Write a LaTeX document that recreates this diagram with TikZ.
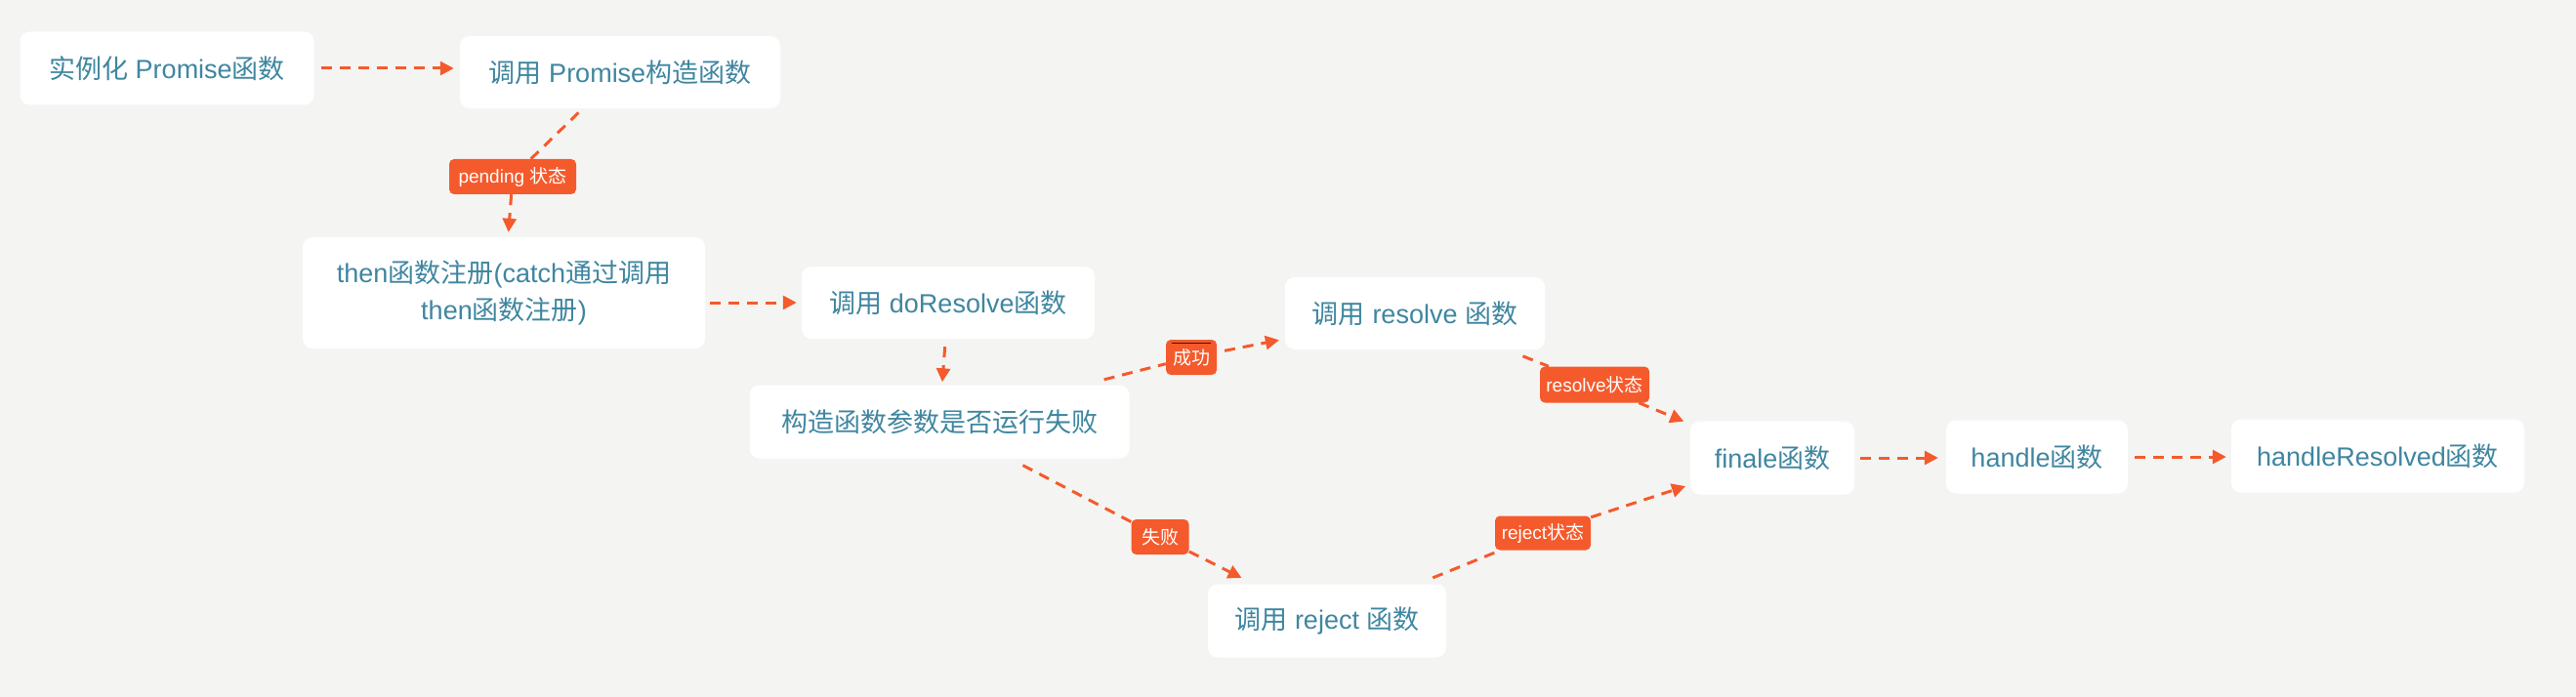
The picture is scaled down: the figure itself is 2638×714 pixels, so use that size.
\documentclass[tikz,border=0pt]{standalone}
\usepackage{fontspec}
\setmainfont{Liberation Sans}
\newfontfamily\cjkf{Noto Sans CJK SC}
\newcommand{\zhs}[1]{{\cjkf #1}}
\usetikzlibrary{arrows.meta}
\definecolor{bgc}{HTML}{F4F5F3}
\definecolor{org}{HTML}{F55A2C}
\definecolor{txt}{HTML}{3F86A0}
\begin{document}
\begin{tikzpicture}[x=1pt,y=-1pt,
  box/.style={fill=white, rounded corners=10pt, text=txt, font=\fontsize{27}{38}\selectfont, inner sep=0pt, align=center},
  tag/.style={fill=org, rounded corners=5pt, text=white, font=\fontsize{19}{22}\selectfont, inner sep=0pt},
  arr/.style={draw=org, line width=3pt, dash pattern=on 11pt off 8pt, -{Triangle[length=14pt,width=14pt]}},
  lnk/.style={draw=org, line width=3pt, dash pattern=on 11pt off 8pt},
]
\useasboundingbox[fill=bgc] (0,0) rectangle (2638,714);

\node[box, minimum width=301pt, minimum height=75pt] (b1) at (171,70) {\zhs{实例化} Promise\zhs{函数}};
\node[box, minimum width=328pt, minimum height=74pt] (b2) at (635,74) {\zhs{调用} Promise\zhs{构造函数}};
\node[box, minimum width=412pt, minimum height=114pt] (b3) at (516,300) {then\zhs{函数注册}(catch\zhs{通过调用}\\then\zhs{函数注册})};
\node[box, minimum width=300pt, minimum height=74pt] (b4) at (971,310) {\zhs{调用} doResolve\zhs{函数}};
\node[box, minimum width=389pt, minimum height=75pt] (b5) at (962,432) {\zhs{构造函数参数是否运行失败}};
\node[box, minimum width=266pt, minimum height=74pt] (b6) at (1449,321) {\zhs{调用} resolve \zhs{函数}};
\node[box, minimum width=168pt, minimum height=75pt] (b7) at (1815,469) {finale\zhs{函数}};
\node[box, minimum width=244pt, minimum height=75pt] (b8) at (1359,636) {\zhs{调用} reject \zhs{函数}};
\node[box, minimum width=186pt, minimum height=75pt] (b9) at (2086,468) {handle\zhs{函数}};
\node[box, minimum width=300pt, minimum height=75pt] (b10) at (2435,467) {handleResolved\zhs{函数}};

\node[tag, minimum width=130pt, minimum height=36pt] (t1) at (525,181) {pending \zhs{状态}};
\node[tag, minimum width=52pt, minimum height=36pt] (t2) at (1220,366) {\zhs{成功}};
\node[tag, minimum width=112pt, minimum height=37pt] (t3) at (1633,394) {resolve\zhs{状态}};
\node[tag, minimum width=59pt, minimum height=36pt] (t4) at (1188,550) {\zhs{失败}};
\node[tag, minimum width=98pt, minimum height=35pt] (t5) at (1580,546) {reject\zhs{状态}};
\draw[draw=black!75!org, line width=1pt] ([xshift=6pt,yshift=-4pt]t2.north west) -- ([xshift=-6pt,yshift=-4pt]t2.north east);

\draw[arr, shorten <=7pt, shorten >=6pt] (b1.east) -- (b1.east -| b2.west);
\draw[lnk, shorten <=6pt] (b2) -- (t1);
\draw[arr, shorten >=5pt] (t1) -- (b3);
\draw[arr, shorten <=5pt, shorten >=5pt] (b3.east |- b4.west) -- (b4.west);
\draw[arr, shorten <=8pt, shorten >=3pt] (b4) -- (b5);
\draw[lnk, shorten <=22pt] (b5) -- (t2);
\draw[arr, shorten <=8pt, shorten >=6pt] (t2) -- (b6);
\draw[lnk, shorten <=18pt] (b6) -- (t3);
\draw[arr, shorten >=7pt] (t3) -- (b7);
\draw[lnk, shorten <=15pt] (b5) -- (t4);
\draw[arr, shorten >=14pt] (t4) -- (b8);
\draw[lnk, shorten <=17pt] (b8) -- (t5);
\draw[arr, shorten >=5pt] (t5) -- (b7);
\draw[arr, shorten <=6pt, shorten >=8pt] (b7.east) -- (b7.east -| b9.west);
\draw[arr, shorten <=7pt, shorten >=5pt] (b9.east) -- (b9.east -| b10.west);
\end{tikzpicture}
\end{document}
